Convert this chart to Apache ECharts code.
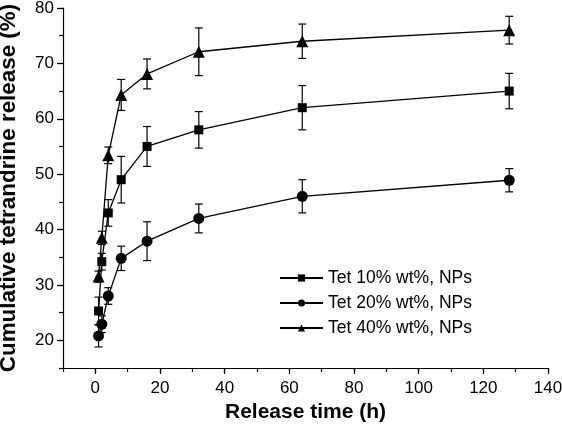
<!DOCTYPE html>
<html>
<head>
<meta charset="utf-8">
<script src="https://cdn.jsdelivr.net/npm/echarts@6/dist/echarts.min.js"></script>
<style>html,body{margin:0;padding:0;background:#fff}#c{width:562px;height:435px}</style>
</head>
<body>
<div id="c"></div>
<script>
var time = [1, 2, 4, 8, 16, 32, 64, 128];
var tet10 = [25.3, 34.2, 43.0, 49.0, 55.0, 58.0, 62.0, 65.0];
var err10 = [2.5, 1.5, 2.4, 4.2, 3.6, 3.3, 4.0, 3.2];
var tet20 = [20.8, 22.9, 28.0, 34.8, 37.9, 42.0, 46.0, 48.9];
var err20 = [2.0, 1.5, 1.5, 2.2, 3.5, 2.6, 3.0, 2.1];
var tet40 = [31.5, 38.5, 53.4, 64.3, 68.1, 72.1, 74.0, 76.0];
var err40 = [1.0, 1.2, 1.5, 2.8, 2.7, 4.3, 3.1, 2.5];
var names = ['Tet 10% wt%, NPs', 'Tet 20% wt%, NPs', 'Tet 40% wt%, NPs'];
var xMajor = [0, 20, 40, 60, 80, 100, 120, 140];
var yMajor = [20, 30, 40, 50, 60, 70, 80];

var FONT = "'Liberation Sans', Arial, sans-serif";

function pairs(v) { return time.map(function (t, i) { return [t, v[i]]; }); }
function errs(v, e) { return time.map(function (t, i) { return [t, v[i] - e[i], v[i] + e[i]]; }); }

function errRender(params, api) {
  var x = api.value(0), lo = api.value(1), hi = api.value(2);
  var p1 = api.coord([x, lo]), p2 = api.coord([x, hi]);
  var w = 4;
  var st = { stroke: '#000', lineWidth: 1.2 };
  return {
    type: 'group',
    children: [
      { type: 'line', shape: { x1: p1[0], y1: p1[1], x2: p2[0], y2: p2[1] }, style: st },
      { type: 'line', shape: { x1: p1[0] - w, y1: p1[1], x2: p1[0] + w, y2: p1[1] }, style: st },
      { type: 'line', shape: { x1: p2[0] - w, y1: p2[1], x2: p2[0] + w, y2: p2[1] }, style: st }
    ]
  };
}

function lineSeries(name, v, sym, size) {
  return {
    name: name, type: 'line', data: pairs(v), symbol: sym, symbolSize: size,
    xAxisIndex: 0, yAxisIndex: 0,
    itemStyle: { color: '#000' }, lineStyle: { color: '#000', width: 1.3 },
    z: 3, animation: false
  };
}
function errSeries(v, e) {
  return { type: 'custom', data: errs(v, e), renderItem: errRender, xAxisIndex: 0, yAxisIndex: 0, z: 2, animation: false, silent: true };
}

var axisLine = { show: true, onZero: false, lineStyle: { color: '#000', width: 1.2 } };

var chart = echarts.init(document.getElementById('c'), null, { renderer: 'canvas' });
chart.setOption({
  animation: false,
  backgroundColor: '#fff',
  grid: { left: 63, right: 14, top: 8, bottom: 67, containLabel: false, outerBoundsMode: 'none' },
  legend: {
    orient: 'vertical', left: 274, top: 264, itemWidth: 43, itemHeight: 9, itemGap: 7,
    data: names,
    textStyle: { fontFamily: FONT, fontSize: 17.5, color: '#000' }
  },
  xAxis: [
    {
      type: 'value', min: -10, max: 140, interval: 10, position: 'bottom',
      axisLine: axisLine,
      axisTick: { show: true, length: 4, lineStyle: { color: '#000', width: 1.2 } },
      axisLabel: { show: false }, splitLine: { show: false },
      name: 'Release time (h)', nameLocation: 'middle', nameGap: 34,
      nameTextStyle: { fontFamily: FONT, fontSize: 21, fontWeight: 'bold', color: '#000' }
    },
    {
      type: 'value', min: -10, max: 140, interval: 10, position: 'bottom',
      axisLine: { show: false, onZero: false },
      axisTick: { show: true, length: 6, customValues: xMajor, lineStyle: { color: '#000', width: 1.2 } },
      axisLabel: { show: true, customValues: xMajor, margin: 12, fontFamily: FONT, fontSize: 17, color: '#000' },
      splitLine: { show: false }
    }
  ],
  yAxis: [
    {
      type: 'value', min: 15, max: 80, interval: 5, position: 'left',
      axisLine: axisLine,
      axisTick: { show: true, length: 4, lineStyle: { color: '#000', width: 1.2 } },
      axisLabel: { show: false }, splitLine: { show: false },
      name: 'Cumulative tetrandrine release (%)', nameLocation: 'middle', nameGap: 43, nameRotate: 90,
      nameTextStyle: { fontFamily: FONT, fontSize: 22.4, fontWeight: 'bold', color: '#000' }
    },
    {
      type: 'value', min: 15, max: 80, interval: 5, position: 'left',
      axisLine: { show: false, onZero: false },
      axisTick: { show: true, length: 6, customValues: yMajor, lineStyle: { color: '#000', width: 1.2 } },
      axisLabel: { show: true, customValues: yMajor, margin: 9, fontFamily: FONT, fontSize: 17, color: '#000' },
      splitLine: { show: false }
    }
  ],
  series: [
    errSeries(tet10, err10),
    errSeries(tet20, err20),
    errSeries(tet40, err40),
    lineSeries(names[0], tet10, 'rect', 9),
    lineSeries(names[1], tet20, 'circle', 11),
    lineSeries(names[2], tet40, 'triangle', 12)
  ]
});
</script>
</body>
</html>
